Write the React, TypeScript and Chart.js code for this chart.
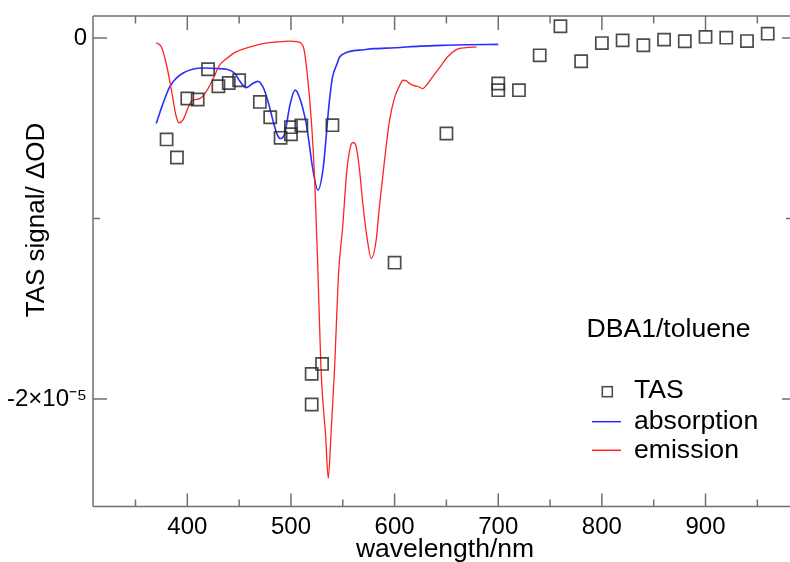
import { useEffect, useRef } from 'react';
import { Chart, registerables } from 'chart.js';

Chart.register(...registerables);

// ---- data (wavelength in nm, signal in ΔOD) ----
const tasWavelength = [380, 390, 400, 410, 420, 430, 440, 450, 470, 480, 490, 500, 500, 510, 520, 520, 530, 540, 600, 650, 700, 700, 720, 740, 760, 780, 800, 820, 840, 860, 880, 900, 920, 940, 960];
const tasSignal = [-0.562e-5, -0.662e-5, -0.335e-5, -0.341e-5, -0.173e-5, -0.267e-5, -0.249e-5, -0.234e-5, -0.354e-5, -0.439e-5, -0.553e-5, -0.494e-5, -0.533e-5, -0.485e-5, -1.861e-5, -2.031e-5, -1.806e-5, -0.483e-5, -1.245e-5, -0.529e-5, -0.252e-5, -0.289e-5, -0.289e-5, -0.096e-5, 0.065e-5, -0.129e-5, -0.028e-5, -0.013e-5, -0.040e-5, -0.009e-5, -0.018e-5, 0.006e-5, 0.002e-5, -0.017e-5, 0.024e-5];

const absorptionWavelength = [370, 376, 383, 389, 396, 405, 415, 428, 438, 446, 450, 457, 463, 468, 473, 478, 483, 487, 490, 494, 499, 504, 508, 515, 521, 526, 531, 537, 540, 544, 547, 553, 557, 570, 580, 600, 625, 650, 670, 700];
const absorptionValue = [-0.474e-5, -0.372e-5, -0.271e-5, -0.225e-5, -0.194e-5, -0.173e-5, -0.166e-5, -0.169e-5, -0.173e-5, -0.197e-5, -0.234e-5, -0.275e-5, -0.252e-5, -0.240e-5, -0.271e-5, -0.354e-5, -0.465e-5, -0.538e-5, -0.557e-5, -0.529e-5, -0.372e-5, -0.289e-5, -0.326e-5, -0.483e-5, -0.723e-5, -0.843e-5, -0.723e-5, -0.354e-5, -0.22e-5, -0.15e-5, -0.105e-5, -0.082e-5, -0.074e-5, -0.065e-5, -0.059e-5, -0.054e-5, -0.045e-5, -0.040e-5, -0.037e-5, -0.035e-5];

const emissionWavelength = [370, 375, 380, 385, 389, 392, 396, 401, 405, 412, 418, 425, 431, 438, 447, 460, 473, 486, 499, 507, 512, 516, 520, 523, 526, 529, 533.5, 536, 538.5, 542, 546, 550, 553.5, 557, 560, 563, 566, 569.5, 573.5, 577.5, 582, 585.5, 590.5, 595, 600, 605, 608, 611, 614, 618, 623, 627, 632, 639, 645, 651, 660, 669, 679];
const emissionValue = [-0.026e-5, -0.050e-5, -0.151e-5, -0.299e-5, -0.428e-5, -0.470e-5, -0.452e-5, -0.382e-5, -0.345e-5, -0.336e-5, -0.299e-5, -0.225e-5, -0.151e-5, -0.114e-5, -0.077e-5, -0.050e-5, -0.031e-5, -0.022e-5, -0.017e-5, -0.022e-5, -0.050e-5, -0.215e-5, -0.483e-5, -0.80e-5, -1.29e-5, -1.84e-5, -2.21e-5, -2.44e-5, -2.21e-5, -1.84e-5, -1.30e-5, -1.04e-5, -0.76e-5, -0.612e-5, -0.579e-5, -0.603e-5, -0.723e-5, -0.926e-5, -1.110e-5, -1.221e-5, -1.129e-5, -0.926e-5, -0.667e-5, -0.46e-5, -0.33e-5, -0.262e-5, -0.234e-5, -0.236e-5, -0.25e-5, -0.262e-5, -0.27e-5, -0.280e-5, -0.252e-5, -0.197e-5, -0.151e-5, -0.105e-5, -0.063e-5, -0.053e-5, -0.050e-5];

const xTickValues = [400, 500, 600, 700, 800, 900];
const xMinorTickValues = [350, 450, 550, 650, 750, 850, 950];
const yTickValues = [-2e-5, 0];
const yTickLabels = ['-2×10⁻⁵', '0'];
const yMinorTickValues = [-1e-5];

const seriesNames = ['TAS', 'absorption', 'emission'];
const chartLabel = 'DBA1/toluene';
const xTitle = 'wavelength/nm';
const yTitle = 'TAS signal/ ΔOD';

const FONT = '"Liberation Sans", Arial, Helvetica, sans-serif';
const BLUE = 'rgb(45,45,255)';
const RED = 'rgb(255,35,35)';
const FRAME = '#707070';
const SQUARE = 'rgba(45,45,45,0.85)';

const decorPlugin = {
  id: 'decor',
  afterDraw(chart: any) {
    const ctx = chart.ctx as CanvasRenderingContext2D;
    const { left, right, top, bottom } = chart.chartArea;
    const xs = chart.scales.x;
    const ys = chart.scales.y;
    ctx.save();
    ctx.strokeStyle = FRAME;
    ctx.lineWidth = 1.5;
    ctx.beginPath();
    ctx.moveTo(left, top);
    ctx.lineTo(right + 2, top);
    ctx.moveTo(left, top);
    ctx.lineTo(left, bottom);
    ctx.moveTo(left, bottom);
    ctx.lineTo(right + 2, bottom);
    xTickValues.forEach((v) => {
      const px = xs.getPixelForValue(v);
      ctx.moveTo(px, bottom);
      ctx.lineTo(px, bottom - 13);
      ctx.moveTo(px, top);
      ctx.lineTo(px, top + 14);
    });
    xMinorTickValues.forEach((v) => {
      const px = xs.getPixelForValue(v);
      ctx.moveTo(px, bottom);
      ctx.lineTo(px, bottom - 7);
      ctx.moveTo(px, top);
      ctx.lineTo(px, top + 7.5);
    });
    yTickValues.forEach((v) => {
      const py = ys.getPixelForValue(v);
      ctx.moveTo(left, py);
      ctx.lineTo(left + 14, py);
      ctx.moveTo(right + 1, py);
      ctx.lineTo(right - 8, py);
    });
    yMinorTickValues.forEach((v) => {
      const py = ys.getPixelForValue(v);
      ctx.moveTo(left, py);
      ctx.lineTo(left + 7, py);
      ctx.moveTo(right + 1, py);
      ctx.lineTo(right - 4, py);
    });
    ctx.stroke();

    ctx.fillStyle = '#000';
    ctx.textBaseline = 'alphabetic';
    ctx.textAlign = 'center';
    ctx.font = `26.5px ${FONT}`;
    ctx.fillText(xTitle, 445, 557);
    ctx.font = `26px ${FONT}`;
    ctx.save();
    ctx.translate(44, 220);
    ctx.rotate(-Math.PI / 2);
    ctx.fillText(yTitle, 0, 0);
    ctx.restore();

    ctx.textAlign = 'left';
    ctx.font = `26.6px ${FONT}`;
    ctx.fillText(chartLabel, 586.5, 336.5);
    ctx.fillText(seriesNames[0], 634, 398);
    ctx.fillText(seriesNames[1], 634, 428.5);
    ctx.fillText(seriesNames[2], 634, 458);
    ctx.strokeStyle = SQUARE;
    ctx.lineWidth = 1.6;
    ctx.strokeRect(602.3, 386.7, 10, 10);
    ctx.lineWidth = 1.5;
    ctx.strokeStyle = BLUE;
    ctx.beginPath();
    ctx.moveTo(592, 421.7);
    ctx.lineTo(621, 421.7);
    ctx.stroke();
    ctx.strokeStyle = RED;
    ctx.beginPath();
    ctx.moveTo(592, 450.3);
    ctx.lineTo(621, 450.3);
    ctx.stroke();
    ctx.restore();
  },
};

export default function App() {
  const canvasRef = useRef<HTMLCanvasElement | null>(null);

  useEffect(() => {
    if (!canvasRef.current) return;
    Chart.defaults.font.family = FONT;
    const chart = new Chart(canvasRef.current, {
      type: 'scatter',
      data: {
        datasets: [
          {
            label: seriesNames[0],
            data: tasWavelength.map((x, i) => ({ x, y: tasSignal[i] })),
            pointStyle: 'rect',
            pointRadius: 8.6,
            borderColor: SQUARE,
            backgroundColor: 'rgba(0,0,0,0)',
            borderWidth: 1.7,
            showLine: false,
            order: 0,
          },
          {
            label: seriesNames[1],
            data: absorptionWavelength.map((x, i) => ({ x, y: absorptionValue[i] })),
            showLine: true,
            pointRadius: 0,
            borderColor: BLUE,
            backgroundColor: BLUE,
            borderWidth: 1.6,
            cubicInterpolationMode: 'monotone',
            order: 2,
          },
          {
            label: seriesNames[2],
            data: emissionWavelength.map((x, i) => ({ x, y: emissionValue[i] })),
            showLine: true,
            pointRadius: 0,
            borderColor: RED,
            backgroundColor: RED,
            borderWidth: 1.3,
            cubicInterpolationMode: 'monotone',
            order: 1,
          },
        ],
      },
      options: {
        animation: false,
        responsive: false,
        devicePixelRatio: 1,
        layout: { autoPadding: false, padding: { top: 16, left: 0, right: 0, bottom: 0 } },
        plugins: { legend: { display: false }, tooltip: { enabled: false } },
        scales: {
          x: {
            type: 'linear',
            min: 309,
            max: 981.5,
            border: { display: false },
            grid: { display: false, drawTicks: false },
            ticks: { color: '#000', font: { size: 24 }, padding: 6, maxRotation: 0 },
            afterBuildTicks: (scale: any) => {
              scale.ticks = xTickValues.map((value) => ({ value }));
            },
            afterFit: (scale: any) => {
              scale.height = 55.5;
              scale.paddingLeft = 0;
              scale.paddingRight = 0;
            },
          },
          y: {
            type: 'linear',
            min: -2.596e-5,
            max: 0.122e-5,
            border: { display: false },
            grid: { display: false, drawTicks: false },
            ticks: {
              color: '#000',
              font: { size: 24 },
              padding: 6,
              callback: (value: any) => {
                const i = yTickValues.indexOf(Number(value));
                return i >= 0 ? yTickLabels[i] : '';
              },
            },
            afterBuildTicks: (scale: any) => {
              scale.ticks = yTickValues.map((value) => ({ value }));
            },
            afterFit: (scale: any) => {
              scale.width = 93;
              scale.paddingTop = 0;
              scale.paddingBottom = 0;
            },
          },
        },
      },
      plugins: [decorPlugin],
    } as any);
    return () => chart.destroy();
  }, []);

  return (
    <div style={{ position: 'fixed', left: 0, top: 0, width: 790, height: 562, overflow: 'hidden', background: '#fff' }}>
      <canvas ref={canvasRef} width={790} height={562} style={{ display: 'block' }} />
    </div>
  );
}
